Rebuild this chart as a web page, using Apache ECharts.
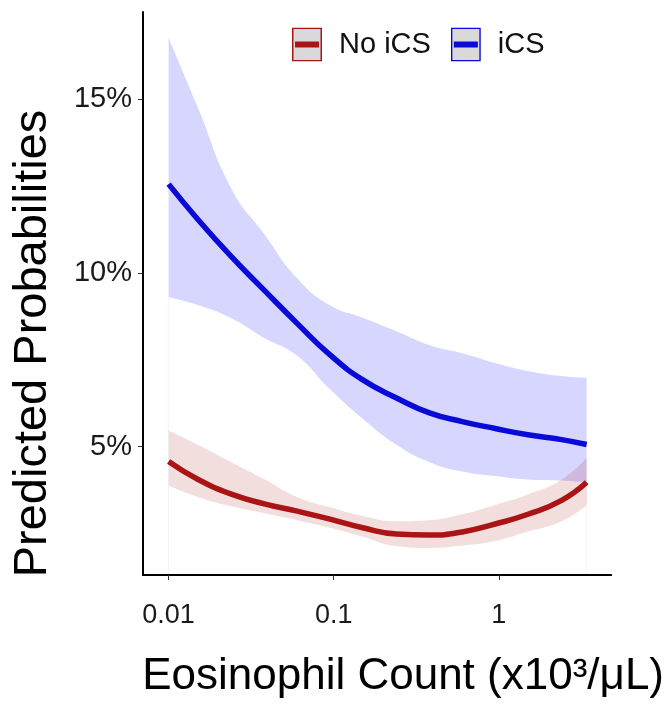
<!DOCTYPE html>
<html>
<head>
<meta charset="utf-8">
<title>Predicted Probabilities</title>
<script src="https://cdn.jsdelivr.net/npm/echarts@6/dist/echarts.min.js"></script>
<style>
  html, body { margin: 0; padding: 0; background: #fff; }
  #chart { width: 667px; height: 704px; }
</style>
</head>
<body>
<div id="chart"></div>
<script>
// eosinophil count (x10^3/uL), shared grid for all curves
const eos = [0.010, 0.015, 0.024, 0.038, 0.060, 0.095, 0.15, 0.24, 0.38, 0.60, 0.95, 1.5, 2.4, 3.4]

// predicted probabilities (%)
const noIcs = [4.57, 4.06, 3.63, 3.35, 3.14, 2.91, 2.66, 2.48, 2.45, 2.54, 2.77, 3.05, 3.45, 3.97]
const noIcsLow = [3.88, 3.55, 3.28, 3.08, 2.88, 2.66, 2.40, 2.13, 2.08, 2.15, 2.28, 2.55, 2.85, 3.31]
const noIcsHigh = [5.46, 5.05, 4.55, 4.06, 3.55, 3.25, 3.00, 2.85, 2.88, 3.05, 3.32, 3.62, 4.05, 4.68]

const ics = [12.56, 11.55, 10.47, 9.50, 8.55, 7.64, 6.92, 6.40, 5.97, 5.72, 5.52, 5.34, 5.20, 5.06]
const icsLow = [9.30, 9.08, 8.70, 8.13, 7.62, 6.65, 5.80, 5.05, 4.55, 4.28, 4.15, 4.05, 4.02, 3.96]
const icsHigh = [16.78, 14.78, 12.43, 11.12, 9.85, 9.07, 8.71, 8.32, 7.92, 7.69, 7.41, 7.18, 7.03, 6.98]

const xTickValues = [0.01, 0.1, 1]
const xTickLabels = ['0.01', '0.1', '1']
const yTickValues = [5, 10, 15]

const RED = '#ab1414'
const BLUE = '#0a0ad8'

function pts(values) {
  return eos.map((e, i) => [Math.log10(e), values[i]])
}

// legend key: grey box, coloured frame, coloured bar
function keyIcon(color) {
  const svg = '<svg xmlns="http://www.w3.org/2000/svg" width="30" height="34" viewBox="0 0 30 34">' +
    '<rect x="0.75" y="0.75" width="28.5" height="32.5" fill="#d9d9d9" stroke="' + color + '" stroke-width="1.5"/>' +
    '<rect x="3" y="14" width="24" height="6" fill="' + color + '"/></svg>'
  return 'image://data:image/svg+xml;charset=utf-8,' + encodeURIComponent(svg)
}

// ribbon = fill under upper curve, then white fill under lower curve
function bandSeries(name, values, fill) {
  return {
    name: name,
    type: 'line',
    data: pts(values),
    smooth: true,
    showSymbol: false,
    silent: true,
    lineStyle: { width: 0 },
    areaStyle: { color: fill, opacity: 1, origin: 'start' },
    z: 1
  }
}

function meanSeries(name, values, color) {
  return {
    name: name,
    type: 'line',
    data: pts(values),
    smooth: true,
    showSymbol: false,
    color: color,
    lineStyle: { color: color, width: 5.5 },
    z: 3
  }
}

const chart = echarts.init(document.getElementById('chart'))

const option = {
  animation: false,
  backgroundColor: '#fff',
  textStyle: { fontFamily: 'Liberation Sans, Arial, sans-serif' },
  legend: {
    left: 287,
    top: 22,
    itemWidth: 30,
    itemHeight: 35,
    itemGap: 20,
    selectedMode: false,
    textStyle: { fontSize: 29, color: '#111', padding: [0, 0, 0, 12] },
    data: [
      { name: 'No iCS', icon: keyIcon(RED) },
      { name: 'iCS', icon: keyIcon(BLUE) }
    ]
  },
  grid: { left: 143, right: 49, top: 12, bottom: 126, containLabel: false },
  xAxis: {
    type: 'value',
    min: -2.155,
    max: 0.68,
    z: 10,
    name: 'Eosinophil Count (x10³/μL)',
    nameLocation: 'middle',
    nameGap: 80,
    nameTextStyle: { fontSize: 44, color: '#000', padding: [0, 0, 0, 52] },
    axisLine: { onZero: false, lineStyle: { color: '#000', width: 2 } },
    axisTick: {
      length: 5,
      lineStyle: { color: '#333', width: 1 },
      customValues: xTickValues.map(v => Math.log10(v))
    },
    axisLabel: {
      fontSize: 27,
      color: '#1a1a1a',
      margin: 27,
      customValues: xTickValues.map(v => Math.log10(v)),
      formatter: v => {
        const i = xTickValues.findIndex(t => Math.abs(Math.log10(t) - v) < 1e-6)
        return i >= 0 ? xTickLabels[i] : ''
      }
    },
    splitLine: { show: false }
  },
  yAxis: {
    type: 'value',
    min: 1.30,
    max: 17.52,
    z: 10,
    name: 'Predicted Probabilities',
    nameLocation: 'middle',
    nameGap: 86,
    nameTextStyle: { fontSize: 47, color: '#000', padding: [0, 100, 0, 0] },
    axisLine: { show: true, onZero: false, lineStyle: { color: '#000', width: 2 } },
    axisTick: {
      show: true,
      length: 5,
      lineStyle: { color: '#333', width: 1 },
      customValues: yTickValues
    },
    axisLabel: {
      fontSize: 29,
      color: '#1a1a1a',
      margin: 11,
      customValues: yTickValues,
      formatter: '{value}%'
    },
    splitLine: { show: false }
  },
  series: [
    bandSeries('iCS upper', icsHigh, 'rgba(0,0,255,0.16)'),
    bandSeries('iCS lower', icsLow, '#ffffff'),
    bandSeries('No iCS upper', noIcsHigh, 'rgba(170,20,20,0.14)'),
    bandSeries('No iCS lower', noIcsLow, '#ffffff'),
    meanSeries('No iCS', noIcs, RED),
    meanSeries('iCS', ics, BLUE)
  ]
}

chart.setOption(option)
window.addEventListener('resize', () => chart.resize())
</script>
</body>
</html>
